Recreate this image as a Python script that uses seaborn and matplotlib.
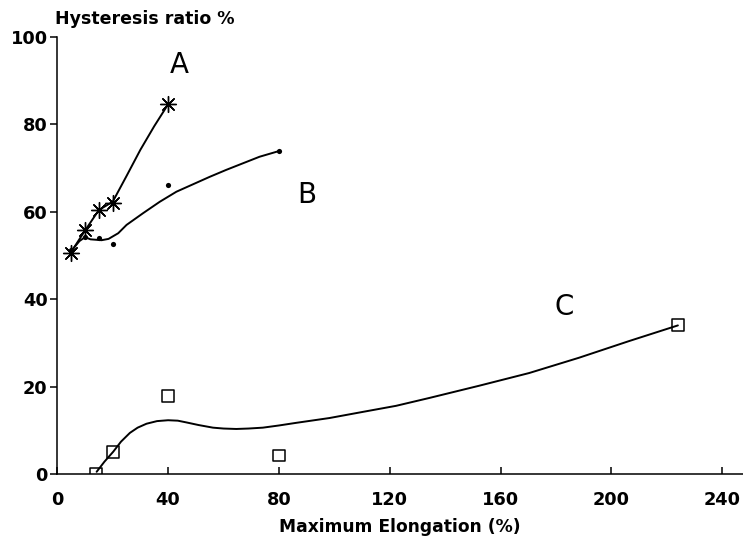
import matplotlib
matplotlib.use('Agg')
import matplotlib.pyplot as plt
import seaborn as sns

a_x = [5, 10, 15, 20, 40]
a_y = [50.5, 55.8, 60.5, 62.0, 84.6]
b_x = [5, 10, 15, 20, 40, 80]
b_y = [51.3, 54.3, 53.9, 52.6, 66.1, 73.9]
c_x = [14, 20, 40, 80, 224]
c_y = [0.0, 5.1, 17.8, 4.2, 34.1]

# hand-drawn smooth curves
curve_a_x = [5, 10, 15, 20, 25, 30, 35, 40]
curve_a_y = [50.8, 55.7, 60.4, 62.3, 68.2, 74.2, 79.6, 84.6]
curve_b_x = [5, 8, 10, 12, 16, 18.5, 22, 25, 31, 37, 43, 49, 55, 61, 67, 73, 80]
curve_b_y = [51.0, 53.3, 54.2, 53.7, 53.5, 53.8, 55.1, 57.0, 59.7, 62.3, 64.6,
             66.3, 68.0, 69.6, 71.1, 72.6, 73.9]
curve_c_x = [14.2, 17, 20.2, 23, 26.2, 29, 32.2, 36, 40, 43.5, 46.6, 51, 56.2,
             60, 64.6, 69, 74.2, 80, 86.2, 98.2, 110.2, 122.3, 134.3, 152.3,
             170.3, 188.3, 206.3, 224]
curve_c_y = [0.5, 2.8, 5.1, 7.4, 9.4, 10.6, 11.5, 12.1, 12.3, 12.2, 11.8, 11.2,
             10.6, 10.4, 10.3, 10.4, 10.6, 11.1, 11.7, 12.8, 14.2, 15.6, 17.4,
             20.2, 23.1, 26.6, 30.4, 34.0]

curve_labels = ['A', 'B', 'C']
label_x = [43.9, 90.2, 182.8]
label_y = [93.7, 63.8, 38.3]

sns.set_style('ticks')
plt.rcParams['font.family'] = ['DejaVu Sans']
plt.rcParams.update({'text.color': 'black', 'axes.labelcolor': 'black',
                     'xtick.color': 'black', 'ytick.color': 'black'})

fig = plt.figure(figsize=(7.43, 5.42), dpi=100)
ax = fig.add_axes([0.0771, 0.1255, 0.9229, 0.8062])

for cx, cy in [(curve_a_x, curve_a_y), (curve_b_x, curve_b_y), (curve_c_x, curve_c_y)]:
    sns.lineplot(x=cx, y=cy, color='black', linewidth=1.4, sort=False,
                 estimator=None, ax=ax)

sns.scatterplot(x=a_x, y=a_y, marker=(8, 2, 0), s=130, color='black',
                linewidth=1.0, ax=ax, zorder=3)
sns.scatterplot(x=b_x, y=b_y, marker='o', s=14, color='black',
                linewidth=0, ax=ax, zorder=3)
sns.scatterplot(x=c_x, y=c_y, marker='s', s=70, facecolors='none',
                edgecolors='black', linewidth=1.1, ax=ax, zorder=3)

for lab, lx, ly in zip(curve_labels, label_x, label_y):
    ax.text(lx, ly, lab, fontsize=20, ha='center', va='center', color='black')

ax.set_xlim(0, 247.5)
ax.set_ylim(0, 100)
ax.set_xticks(range(0, 241, 40))
ax.set_yticks(range(0, 101, 20))
ax.tick_params(axis='x', direction='in', length=5, width=1.1, pad=12,
               labelsize=12.8, colors='black')
ax.tick_params(axis='y', direction='out', length=5, width=1.1, pad=2,
               labelsize=12.8, colors='black')
for lab in ax.get_xticklabels() + ax.get_yticklabels():
    lab.set_fontweight('bold')

sns.despine(ax=ax)
for side in ['left', 'bottom']:
    ax.spines[side].set_linewidth(1.1)
    ax.spines[side].set_color('black')

ax.set_xlabel('Maximum Elongation (%)', fontsize=12.3, fontweight='bold',
              labelpad=7, color='black')
ax.set_ylabel('')
fig.text(0.074, 1 - 18.5 / 542, 'Hysteresis ratio %', fontsize=12.5,
         fontweight='bold', ha='left', va='center', color='black')

fig.savefig('out.png', dpi=100)
